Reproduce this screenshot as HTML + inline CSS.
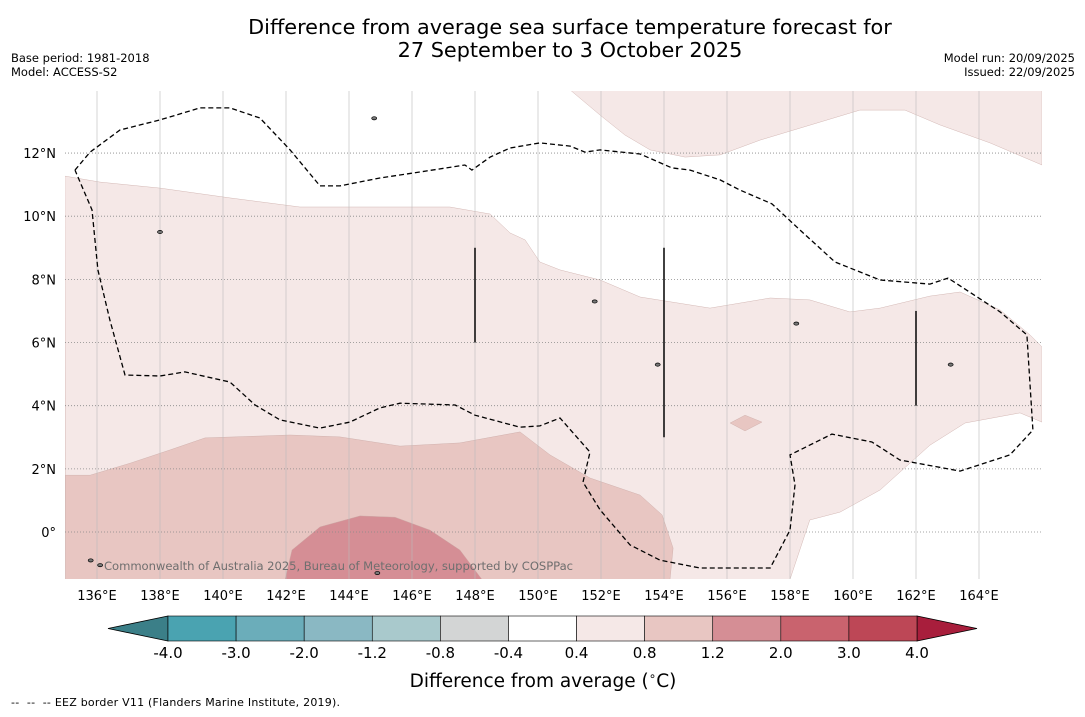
<!DOCTYPE html>
<html><head><meta charset="utf-8"><style>
body{margin:0;background:#fff;width:1085px;height:713px;overflow:hidden;font-family:"DejaVu Sans","Liberation Sans",sans-serif}
svg text{font-family:"DejaVu Sans","Liberation Sans",sans-serif}
</style></head><body>
<svg id="c" width="1085" height="713" viewBox="0 0 1085 713" xmlns="http://www.w3.org/2000/svg">
<text x="570" y="34" font-size="20.8" text-anchor="middle">Difference from average sea surface temperature forecast for</text>
<text x="570" y="57" font-size="20.8" text-anchor="middle">27 September to 3 October 2025</text>
<text x="11" y="62" font-size="11.5">Base period: 1981-2018</text>
<text x="11" y="76" font-size="11.5">Model: ACCESS-S2</text>
<text x="1075" y="62" font-size="11.5" text-anchor="end">Model run: 20/09/2025</text>
<text x="1075" y="76" font-size="11.5" text-anchor="end">Issued: 22/09/2025</text>
<defs><clipPath id="mc"><rect x="65" y="91" width="977" height="488"/></clipPath></defs>
<g id="map" clip-path="url(#mc)"></g>
<g id="ax"></g>
<g id="cb"></g>
<text x="543" y="687" font-size="18.5" text-anchor="middle">Difference from average (<tspan font-size="12" dy="-7">∘</tspan><tspan dy="7">C)</tspan></text>
<text x="11" y="706" font-size="11" xml:space="preserve" textLength="329">--  --  -- EEZ border V11 (Flanders Marine Institute, 2019).</text>
</svg>
<script>
const lonTicks=[136,138,140,142,144,146,148,150,152,154,156,158,160,162,164];
const latTicks=[0,2,4,6,8,10,12];
const lightRegion=[[134.98,11.27],[136.1,11.08],[138,10.89],[140.22,10.58],[142.44,10.29],[144.98,10.29],[147.2,10.29],[148.48,10.07],[149.11,9.47],[149.59,9.25],[150.06,8.55],[150.7,8.3],[151.97,7.98],[153.24,7.44],[155.46,7.09],[157.37,7.41],[158.63,7.35],[159.9,6.97],[160.86,7.09],[162.44,7.47],[163.4,7.6],[164.67,7.03],[165.62,6.24],[166,5.86],[166,3.48],[165.3,3.77],[163.56,3.45],[162.44,2.75],[160.86,1.33],[159.59,0.63],[158.63,0.38],[158,-1.5],[135,-1.5]];
const lightRegionNE=[[151.02,14],[151.97,13.2],[152.76,12.57],[153.56,12.1],[154.67,11.87],[155.78,11.94],[157.05,12.41],[158.32,12.79],[160.22,13.36],[161.65,13.36],[162.76,12.89],[164.35,12.32],[166,11.62],[166,14]];
const midRegion=[[135,1.8],[135.78,1.8],[137.05,2.18],[138.32,2.6],[139.43,2.98],[142.13,3.07],[143.71,3.01],[145.62,2.72],[147.52,2.82],[149.43,3.17],[150.38,2.44],[151.65,1.71],[153.24,1.17],[153.94,0.54],[154.29,-0.51],[154.19,-1.5],[135,-1.5]];
const midDiamond=[[156.1,3.45],[156.57,3.7],[157.11,3.48],[156.57,3.2]];
const darkRegion=[[141.97,-1.5],[142.19,-0.57],[143.08,0.16],[144.35,0.51],[145.46,0.47],[146.57,0.06],[147.52,-0.57],[148.22,-1.5]];
const eez=[[135.3,11.46],[135.78,12.03],[136.73,12.73],[138,13.05],[139.27,13.43],[140.22,13.43],[141.17,13.11],[142.13,12.1],[143.08,10.96],[143.71,10.96],[144.98,11.21],[146.25,11.4],[147.68,11.62],[147.9,11.46],[148.48,11.87],[149.11,12.16],[150.06,12.32],[151.02,12.22],[151.49,12.03],[151.97,12.1],[153.24,11.97],[154.25,11.53],[154.83,11.46],[155.78,11.15],[156.41,10.83],[157.43,10.39],[158.32,9.56],[159.43,8.55],[160.86,7.98],[162.44,7.85],[163.02,8.04],[164.67,6.97],[165.52,6.24],[165.71,3.23],[164.98,2.44],[163.4,1.93],[161.49,2.28],[160.6,2.85],[159.33,3.1],[158,2.44],[158.16,1.49],[158,0.06],[157.37,-1.14],[155.14,-1.14],[153.87,-0.89],[152.92,-0.41],[151.97,0.7],[151.43,1.58],[151.65,2.53],[150.7,3.61],[150.06,3.36],[149.43,3.32],[148,3.7],[147.37,4.02],[145.62,4.08],[144.98,3.93],[144.03,3.48],[143.08,3.29],[141.81,3.55],[141.02,4.02],[140.22,4.75],[138.79,5.07],[138,4.94],[136.89,4.97],[136.41,6.71],[136.03,8.3],[135.84,10.2],[135.3,11.46]];
const segLines=[[148,9,6],[154,9,3],[162,7,4]];
const islands=[[135.8,-0.9],[136.1,-1.05],[138,9.5],[144.8,13.1],[151.8,7.3],[158.2,6.6],[163.1,5.3],[153.8,5.3],[144.9,-1.3]];
const cbLabels=["-4.0","-3.0","-2.0","-1.2","-0.8","-0.4","0.4","0.8","1.2","2.0","3.0","4.0"];
const cbColors=["#4aa3b1","#6badba","#8ab8c3","#a9c9cc","#d3d5d5","#ffffff","#f5e8e7","#e8c6c2","#d58e95","#c9636e","#bd4756"];
const NS="http://www.w3.org/2000/svg";
const X=lon=>97+(lon-136)*31.5, Y=lat=>532-lat*31.58;
function mk(t,a,p){const e=document.createElementNS(NS,t);for(const k in a)e.setAttribute(k,a[k]);p.appendChild(e);return e;}
const map=document.getElementById('map'),ax=document.getElementById('ax'),cb=document.getElementById('cb');
const pts=a=>a.map(p=>X(p[0]).toFixed(1)+','+Y(p[1]).toFixed(1)).join(' ');
let r=mk('rect',{x:65,y:91,width:977,height:488,fill:'#fff'},map);


[[lightRegion,'#f5e8e7','light-anomaly-region'],[lightRegionNE,'#f5e8e7','light-anomaly-region-ne'],[midRegion,'#e8c6c2','mid-anomaly-region'],[midDiamond,'#e8c6c2','mid-anomaly-patch'],[darkRegion,'#d58e95','warm-anomaly-region']].forEach(d=>{
 const e=mk('polygon',{points:pts(d[0]),fill:d[1],stroke:'#c9a8a5','stroke-width':0.4},map);
 
 
});
lonTicks.forEach(l=>{const e=mk('line',{x1:X(l),x2:X(l),y1:91,y2:579,stroke:'#bbb','stroke-width':0.6},map);
 
 
 const t=mk('text',{x:X(l),y:600,'font-size':13,'text-anchor':'middle'},ax);t.textContent=l+'°E';
 
 });
latTicks.forEach(l=>{const e=mk('line',{x1:65,x2:1042,y1:Y(l),y2:Y(l),stroke:'#888','stroke-width':0.8,'stroke-dasharray':'1,2'},map);
 
 
 const t=mk('text',{x:56,y:Y(l)+5,'font-size':13,'text-anchor':'end'},ax);t.textContent=l===0?'0°':l+'°N';
 
 });
let e=mk('polyline',{points:pts(eez),fill:'none',stroke:'#000','stroke-width':1.3,'stroke-dasharray':'5,3'},map);


segLines.forEach(s=>{const l=mk('line',{x1:X(s[0]),x2:X(s[0]),y1:Y(s[1]),y2:Y(s[2]),stroke:'#111','stroke-width':1.6},map);
 
 });
islands.forEach(p=>{const c=mk('ellipse',{cx:X(p[0]),cy:Y(p[1]),rx:2.5,ry:1.6,fill:'#777',stroke:'#000','stroke-width':0.7},map);
 
 });
let w=mk('text',{x:104,y:570,'font-size':11.6,fill:'#6f6f6f',textLength:469},map);w.textContent='Commonwealth of Australia 2025, Bureau of Meteorology, supported by COSPPac';


const cx0=168,cx1=917,cw=(cx1-cx0)/cbColors.length,cy=616,ch=25;
let tl=mk('polygon',{points:`108,${cy+ch/2} ${cx0},${cy} ${cx0},${cy+ch}`,fill:'#3b7f88',stroke:'#000','stroke-width':0.8},cb);


let tr=mk('polygon',{points:`977,${cy+ch/2} ${cx1},${cy} ${cx1},${cy+ch}`,fill:'#a81e3c',stroke:'#000','stroke-width':0.8},cb);


cbColors.forEach((c,i)=>{const s=mk('rect',{x:cx0+i*cw,y:cy,width:cw,height:ch,fill:c,stroke:'#000','stroke-width':0.6},cb);
 
 });
cbLabels.forEach((t,i)=>{const x=mk('text',{x:cx0+i*cw,y:658,'font-size':15,'text-anchor':'middle'},cb);x.textContent=t;
 
 });
</script>
</body></html>
